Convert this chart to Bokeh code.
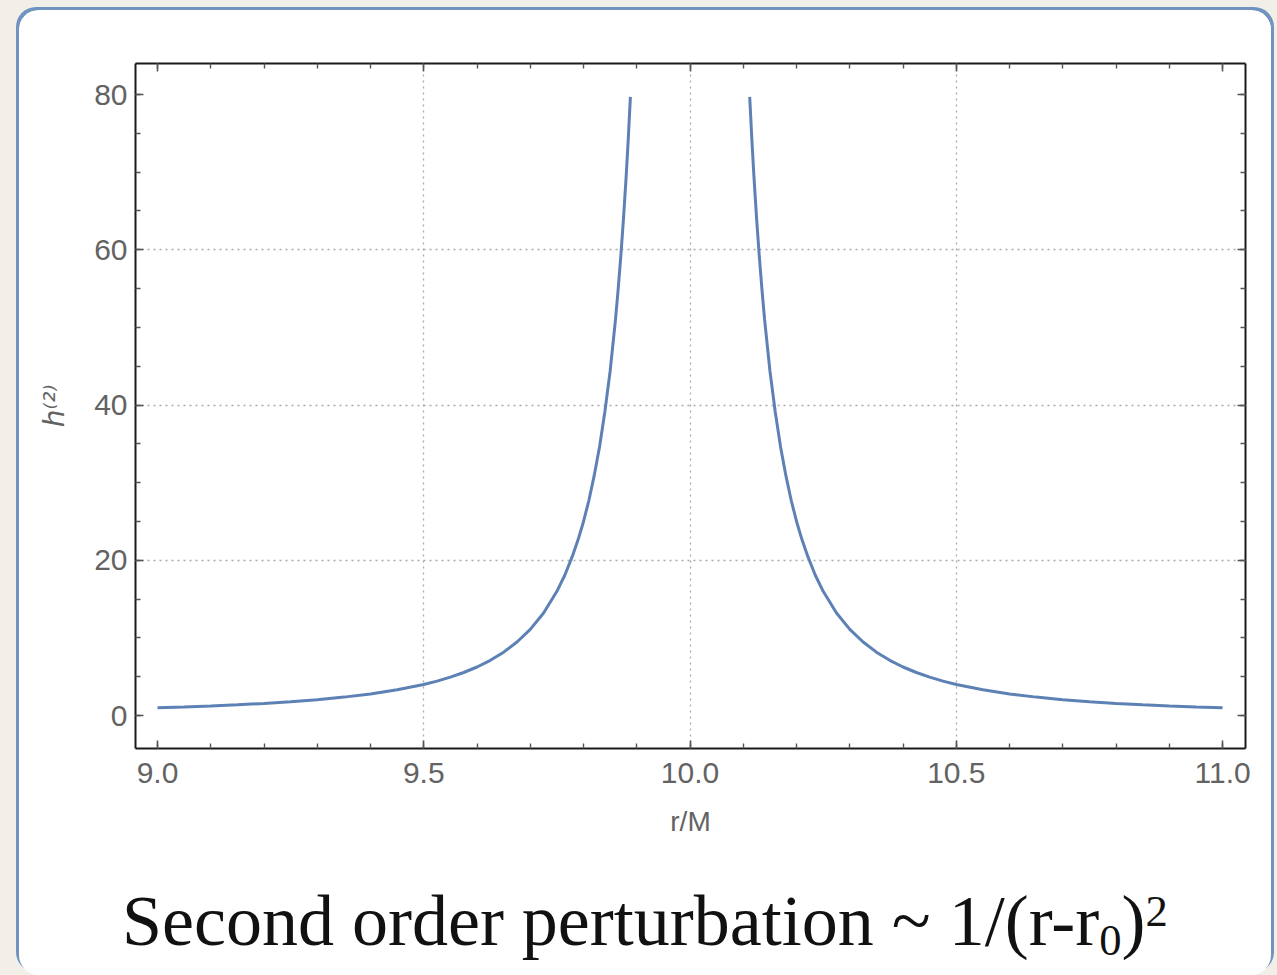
from bokeh.plotting import figure
from bokeh.models import (LinearAxis, FixedTicker, SingleIntervalTicker, Div, Column,
                          Range1d, PrintfTickFormatter, CustomJSTickFormatter)
from bokeh.embed import file_html
from bokeh.resources import INLINE

# ---- data ----
left_r = [9.0, 9.05, 9.1, 9.15, 9.2, 9.25, 9.3, 9.35, 9.4, 9.45, 9.5, 9.525, 9.55, 9.575,
          9.6, 9.625, 9.65, 9.675, 9.7, 9.725, 9.75, 9.765, 9.78, 9.79, 9.8, 9.81, 9.82,
          9.83, 9.84, 9.85, 9.86, 9.865, 9.87, 9.875, 9.88, 9.884, 9.888]
left_h = [1.0, 1.11, 1.23, 1.38, 1.56, 1.78, 2.04, 2.37, 2.78, 3.31, 4.0, 4.43, 4.94, 5.54,
          6.25, 7.11, 8.16, 9.47, 11.1, 13.2, 16.0, 18.1, 20.7, 22.7, 25.0, 27.7, 30.9,
          34.6, 39.1, 44.4, 51.0, 54.9, 59.2, 64.0, 69.4, 74.3, 79.7]
right_r = [10.112, 10.116, 10.12, 10.125, 10.13, 10.135, 10.14, 10.15, 10.16, 10.17, 10.18,
           10.19, 10.2, 10.21, 10.22, 10.235, 10.25, 10.275, 10.3, 10.325, 10.35, 10.375,
           10.4, 10.425, 10.45, 10.475, 10.5, 10.55, 10.6, 10.65, 10.7, 10.75, 10.8, 10.85,
           10.9, 10.95, 11.0]
right_h = [79.7, 74.3, 69.4, 64.0, 59.2, 54.9, 51.0, 44.4, 39.1, 34.6, 30.9, 27.7, 25.0,
           22.7, 20.7, 18.1, 16.0, 13.2, 11.1, 9.47, 8.16, 7.11, 6.25, 5.54, 4.94, 4.43,
           4.0, 3.31, 2.78, 2.37, 2.04, 1.78, 1.56, 1.38, 1.23, 1.11, 1.0]
x_grid = [9.5, 10.0, 10.5]
y_grid = [20, 40, 60]
x_label = "r/M"
y_label = "h\u207d\u00b2\u207e"
caption_main = "Second order perturbation ~ 1/(r-r"
caption_sub = "0"
caption_close = ")"
caption_sup = "2"

LINE = "#5e81b5"
TICK_COL = "#636363"
CARD = "#7093bf"

p = figure(width=1252, height=860, output_backend="svg", toolbar_location=None,
           x_range=Range1d(8.9587, 11.043), y_range=Range1d(-4.25, 84.0),
           min_border_left=116, min_border_right=26, min_border_top=53,
           min_border_bottom=122, background_fill_color="white",
           border_fill_color="white", outline_line_color=None)

p.line(left_r, left_h, line_color=LINE, line_width=3)
p.line(right_r, right_h, line_color=LINE, line_width=3)

xt = SingleIntervalTicker(interval=0.5, num_minor_ticks=5)
yt = SingleIntervalTicker(interval=20, num_minor_ticks=4)


def style(ax, labels=True):
    ax.axis_line_color = "#1a1a1a"
    ax.axis_line_width = 2
    ax.major_tick_in = 8
    ax.major_tick_out = 0
    ax.minor_tick_in = 5
    ax.minor_tick_out = 0
    ax.major_tick_line_color = "#555555"
    ax.major_tick_line_width = 1.6
    ax.minor_tick_line_color = "#555555"
    ax.minor_tick_line_width = 1.4
    ax.major_label_text_font = "Liberation Sans"
    ax.major_label_text_font_size = "30px"
    ax.major_label_text_color = TICK_COL
    if not labels:
        ax.formatter = CustomJSTickFormatter(code="return ''")


xa = p.xaxis[0]
xa.ticker = xt
xa.formatter = PrintfTickFormatter(format="%.1f")
style(xa)
xa.major_label_standoff = 14
xa.axis_label = x_label
xa.axis_label_text_font = "Liberation Sans"
xa.axis_label_text_font_size = "28px"
xa.axis_label_text_font_style = "normal"
xa.axis_label_text_color = TICK_COL
xa.axis_label_standoff = 20

ya = p.yaxis[0]
ya.ticker = yt
style(ya)
ya.major_label_standoff = 8
ya.axis_label = y_label
ya.axis_label_text_font = "DejaVu Sans"
ya.axis_label_text_font_size = "28px"
ya.axis_label_text_font_style = "italic"
ya.axis_label_text_color = TICK_COL
ya.axis_label_standoff = 20

top = LinearAxis(ticker=xt)
style(top, labels=False)
p.add_layout(top, "above")
right = LinearAxis(ticker=yt)
style(right, labels=False)
p.add_layout(right, "right")

p.xgrid.ticker = FixedTicker(ticks=x_grid)
p.ygrid.ticker = FixedTicker(ticks=y_grid)
for g in (p.xgrid, p.ygrid):
    g.grid_line_color = "#aaaaaa"
    g.grid_line_width = 1.3
    g.grid_line_dash = "2 4"

caption_html = (
    '<div style="padding-top:15px;padding-left:103px;font-family:\'Liberation Serif\';'
    'font-size:72px;line-height:72px;white-space:nowrap;color:#111111">'
    f'{caption_main}<span style="font-size:62%;line-height:0;vertical-align:-0.22em">'
    f'{caption_sub}</span>{caption_close}'
    '<span style="font-size:62%;line-height:0;vertical-align:0.42em">'
    f'{caption_sup}</span></div>'
)
div = Div(text=caption_html, width=1252, height=105, margin=0)

p.margin = 0
card = Column(children=[p, div], width=1252, height=965, margin=(10, 0, 0, 19),
              spacing=0,
              styles={"background-color": "white", "border-radius": "20px",
                      "box-shadow": f"-3px -3px 0 0 {CARD}, 3px -3px 0 0 {CARD}",
                      "overflow": "hidden"})

outer = Column(children=[card], width=1277, height=975, sizing_mode="fixed",
               styles={"background-color": "#f2efe9", "overflow": "hidden"})

open("out.html", "w").write(file_html(outer, INLINE))
